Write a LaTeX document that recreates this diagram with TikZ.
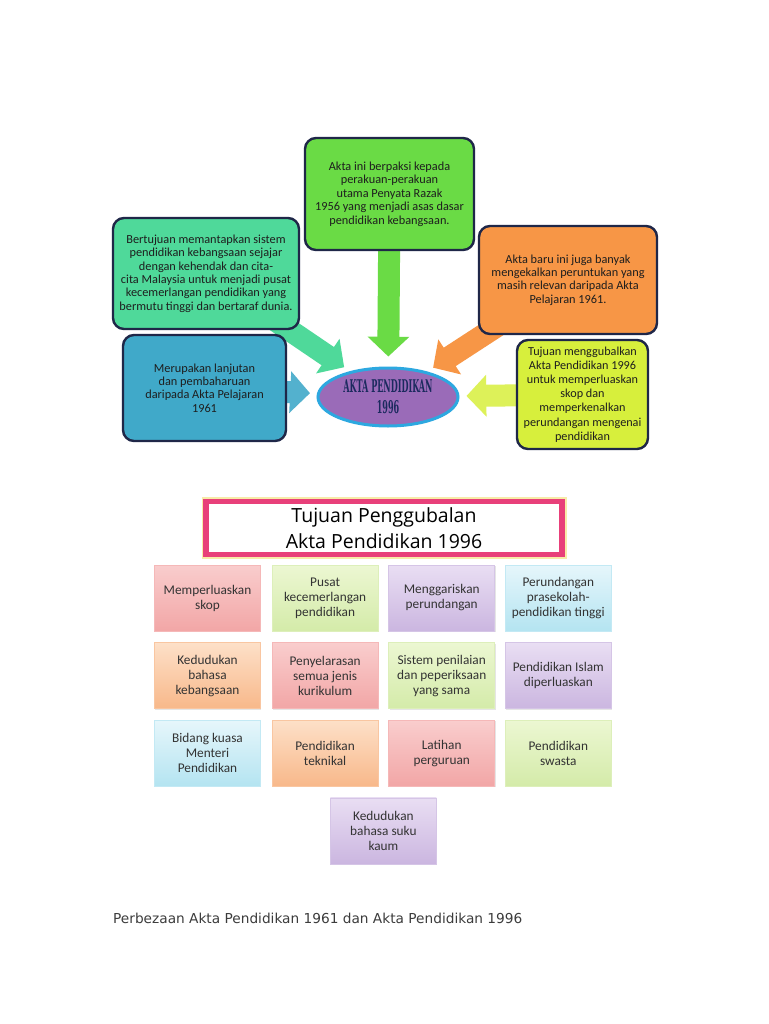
\documentclass[tikz,border=0pt]{standalone}
\usepackage{fontspec}
\setmainfont{Carlito}
\newfontfamily\titlefont{Open Sans}
\newfontfamily\captionfont{DejaVu Sans}
\newfontfamily\aktafont[FakeStretch=0.46]{DejaVu Serif}
\usetikzlibrary{arrows.meta,positioning,calc,shapes.geometric,backgrounds,shadows}
\definecolor{navyline}{HTML}{1F2748}
\definecolor{inkdark}{HTML}{1E1E1E}
\definecolor{boxgreen}{HTML}{6ADB45}
\definecolor{boxteal}{HTML}{4FD99A}
\definecolor{boxorange}{HTML}{F79646}
\definecolor{boxblue}{HTML}{40A9C9}
\definecolor{boxyellow}{HTML}{D7EF3C}
\definecolor{akpurple}{HTML}{9A6BB8}
\definecolor{ringblue}{HTML}{2DA8E0}
\definecolor{aknavy}{HTML}{1B2A5E}
\definecolor{hotpink}{HTML}{E8407A}
\definecolor{glowyellow}{HTML}{F8EBA8}
\definecolor{celltext}{HTML}{333333}
\definecolor{captext}{HTML}{3C3C3C}
\definecolor{pinkT}{HTML}{F9CDCD}\definecolor{pinkB}{HTML}{F2A6A6}
\definecolor{greenT}{HTML}{ECF7D2}\definecolor{greenB}{HTML}{D4EBA9}
\definecolor{lilacT}{HTML}{E9DEF3}\definecolor{lilacB}{HTML}{CBB6E0}
\definecolor{cyanT}{HTML}{E6F6FB}\definecolor{cyanB}{HTML}{B4E4F1}
\definecolor{orangeT}{HTML}{FDE0C8}\definecolor{orangeB}{HTML}{F8B88A}

\begin{document}
\begin{tikzpicture}[
      x=1pt, y=-1pt,
      topbox/.style={draw=navyline, line width=2.4pt, rounded corners=11pt, align=center,
                     inner sep=2pt, text=inkdark, font=\fontsize{12.3}{13.4}\selectfont},
      blk/.style={line width=22pt, -{Triangle[length=0pt 0.9, width=0pt 1.85]},
                  shorten >=7pt},
      cell/.style={minimum width=106pt, minimum height=66pt, align=center, inner sep=2pt,
                   top color=#1T, bottom color=#1B, draw=#1B!80!white, line width=0.6pt,
                   drop shadow={opacity=0.2, shadow xshift=0.8pt, shadow yshift=-1.2pt},
                   text=celltext, font=\fontsize{13.3}{15}\selectfont},
    ]
    \useasboundingbox (0,0) rectangle (768,1024);

    % top map
    \node[topbox, fill=boxgreen, minimum width=169pt, minimum height=112pt] (razak) at (389.5,194)
      {Akta ini berpaksi kepada\\perakuan-perakuan\\utama Penyata Razak\\1956 yang menjadi asas dasar\\pendidikan kebangsaan.};
    \node[topbox, fill=boxteal, minimum width=186pt, minimum height=111pt] (sejajar) at (206,273.5)
      {Bertujuan memantapkan sistem\\pendidikan kebangsaan sejajar\\dengan kehendak dan cita-\\cita Malaysia untuk menjadi pusat\\kecemerlangan pendidikan yang\\bermutu tinggi dan bertaraf dunia.};
    \node[topbox, fill=boxorange, minimum width=178pt, minimum height=108pt] (kekal) at (568,280)
      {Akta baru ini juga banyak\\mengekalkan peruntukan yang\\masih relevan daripada Akta\\Pelajaran 1961.};
    \node[topbox, fill=boxblue, minimum width=163pt, minimum height=106pt] (lanjut) at (204.5,388)
      {Merupakan lanjutan\\dan pembaharuan\\daripada Akta Pelajaran\\1961};
    \node[topbox, fill=boxyellow, minimum width=131pt, minimum height=109pt,
          inner sep=1pt, font=\fontsize{12.2}{14.2}\selectfont] (tujuan) at (582.5,394.5)
      {Tujuan menggubalkan\\Akta Pendidikan 1996\\untuk memperluaskan\\skop dan\\memperkenalkan\\perundangan mengenai\\pendidikan};

    \node[ellipse, draw=ringblue, line width=3pt, fill=akpurple, minimum width=140pt,
          minimum height=58pt, inner sep=0pt, align=center, text=aknavy,
          font=\aktafont\bfseries\fontsize{17.5}{21}\selectfont] (akta) at (388,397)
      {AKTA PENDIDIKAN\\1996};

    \begin{scope}[on background layer]
      \fill[white] (0,0) rectangle (768,1024);
      \draw[blk, boxgreen, shorten >=10pt] (razak.center) -- (akta);
      \draw[blk, boxteal] (sejajar.center) -- (akta);
      \draw[blk, boxorange] (kekal.center) -- (akta);
      \draw[blk, boxblue!90!white] (lanjut.center) -- (akta);
      \draw[blk, boxyellow!85!white] (tujuan.center) -- (akta);
    \end{scope}

    % purpose grid
    \node[draw=hotpink, line width=5.5pt, preaction={draw=glowyellow, line width=9pt},
          fill=white, minimum width=356pt, minimum height=53pt, align=center,
          font=\titlefont\fontsize{19.5}{26}\selectfont] (ttl) at (384,528)
      {Tujuan Penggubalan\\Akta Pendidikan 1996};

    \node[cell=pink] (c11) at (207.5,598) {Memperluaskan\\skop};
    \node[cell=green, right=11pt of c11] (c12) {Pusat\\kecemerlangan\\pendidikan};
    \node[cell=lilac, right=10pt of c12] (c13) {Menggariskan\\perundangan};
    \node[cell=cyan, right=10pt of c13] (c14) {Perundangan\\prasekolah-\\pendidikan tinggi};

    \node[cell=orange, below=11pt of c11] (c21) {Kedudukan\\bahasa\\kebangsaan};
    \node[cell=pink, right=11pt of c21] (c22) {Penyelarasan\\semua jenis\\kurikulum};
    \node[cell=green, right=10pt of c22] (c23) {Sistem penilaian\\dan peperiksaan\\yang sama};
    \node[cell=lilac, right=10pt of c23] (c24) {Pendidikan Islam\\diperluaskan};

    \node[cell=cyan, below=11pt of c21] (c31) {Bidang kuasa\\Menteri\\Pendidikan};
    \node[cell=orange, right=11pt of c31] (c32) {Pendidikan\\teknikal};
    \node[cell=pink, right=10pt of c32] (c33) {Latihan\\perguruan};
    \node[cell=green, right=10pt of c33] (c34) {Pendidikan\\swasta};

    \coordinate (mid) at ($(c32.south)!.5!(c33.south)$);
    \node[cell=lilac, below=11pt of mid] (c41) {Kedudukan\\bahasa suku\\kaum};

    \node[anchor=base west, inner sep=0pt, text=captext,
          font=\captionfont\fontsize{13.7}{15}\selectfont] (cap) at (113,923)
      {Perbezaan Akta Pendidikan 1961 dan Akta Pendidikan 1996};
\end{tikzpicture}
\end{document}
